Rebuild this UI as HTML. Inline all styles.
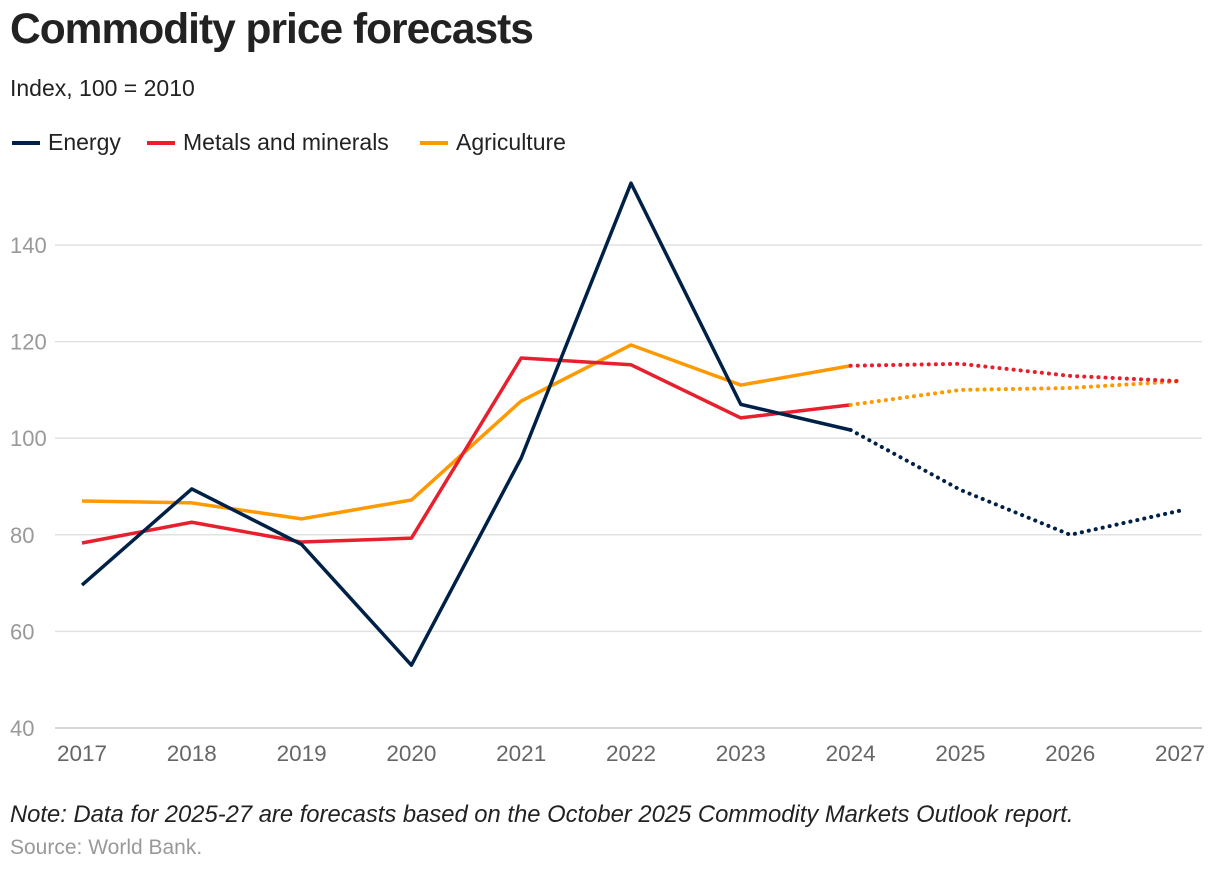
<!DOCTYPE html>
<html><head><meta charset="utf-8"><style>
body{margin:0;background:#fff;font-family:"Liberation Sans",sans-serif;}
svg text{font-family:"Liberation Sans",sans-serif;}
</style></head><body>
<svg id="chart" width="1220" height="870">
<text x="10" y="43" font-size="42.5" font-weight="bold" fill="#222" letter-spacing="-1">Commodity price forecasts</text>
<text x="10" y="96" font-size="23" fill="#222">Index, 100 = 2010</text>
<g id="legend"></g>
<g id="grid"></g><g id="lines"></g><g id="ticks"></g>
<text x="10" y="822" font-size="23.8" font-style="italic" fill="#222">Note: Data for 2025-27 are forecasts based on the October 2025 Commodity Markets Outlook report.</text>
<text x="10" y="854" font-size="21" fill="#999">Source: World Bank.</text>
</svg>
<script>
const years=[2017,2018,2019,2020,2021,2022,2023,2024,2025,2026,2027];
const yTicks=[40,60,80,100,120,140];
const energyActual=[69.6,89.5,78,53,95.9,152.8,107,101.7];
const energyForecast=[101.7,89.3,80,85];
const metalsActual=[78.3,82.6,78.5,79.3,116.6,115.2,104.2,106.9];
const metalsForecast=[115,115.4,112.9,111.8];
const agriActual=[87,86.6,83.3,87.2,107.7,119.3,111,115];
const agriForecast=[106.9,110,110.4,111.8];
const NS="http://www.w3.org/2000/svg";
const x=y=>82+(y-2017)*109.8;
const yS=v=>728-(v-40)*4.83;
function mk(t,a,p){const e=document.createElementNS(NS,t);for(const k in a)e.setAttribute(k,a[k]);p.appendChild(e);return e;}
const grid=document.getElementById('grid'),ticks=document.getElementById('ticks'),lines=document.getElementById('lines'),legend=document.getElementById('legend');
yTicks.forEach(v=>{
 const l=mk('line',{x1:55,x2:1202,y1:yS(v),y2:yS(v),stroke:v==40?'#ccc':'#e2e2e2','stroke-width':1.5},grid);
 
 
 const t=mk('text',{x:10,y:yS(v)+8,'font-size':22,fill:'#999'},ticks);t.textContent=v;
 
 
});
years.forEach(yr=>{
 const t=mk('text',{x:x(yr),y:761,'font-size':22.5,fill:'#666','text-anchor':'middle'},ticks);t.textContent=yr;
 
 
});
function draw(vals,start,color,dotted,name){
 const pts=vals.map((v,i)=>x(years[start+i])+','+yS(v)).join(' ');
 const a={points:pts,fill:'none',stroke:color,'stroke-width':3.5,'stroke-linejoin':'round'};
 if(dotted){a['stroke-dasharray']='0.1 7';a['stroke-linecap']='round';a['stroke-width']=4;}
 const p=mk('polyline',a,lines);
 
 
}
draw(agriActual,0,'#ff9900',false,'agriculture-line');
draw(metalsActual,0,'#e8202e',false,'metals-line');
draw(energyActual,0,'#002147',false,'energy-line');
draw(agriForecast,7,'#ff9900',true,'agriculture-forecast-line');
draw(metalsForecast,7,'#e8202e',true,'metals-forecast-line');
draw(energyForecast,7,'#002147',true,'energy-forecast-line');
[['Energy','#002147',12],['Metals and minerals','#e8202e',147],['Agriculture','#ff9900',420]].forEach(([n,c,lx])=>{
 const g=mk('g',{},legend);
 
 
 mk('line',{x1:lx,x2:lx+28,y1:143,y2:143,stroke:c,'stroke-width':4},g);
 const t=mk('text',{x:lx+36,y:150,'font-size':23,fill:'#222'},g);t.textContent=n;
});
</script>
</body></html>
